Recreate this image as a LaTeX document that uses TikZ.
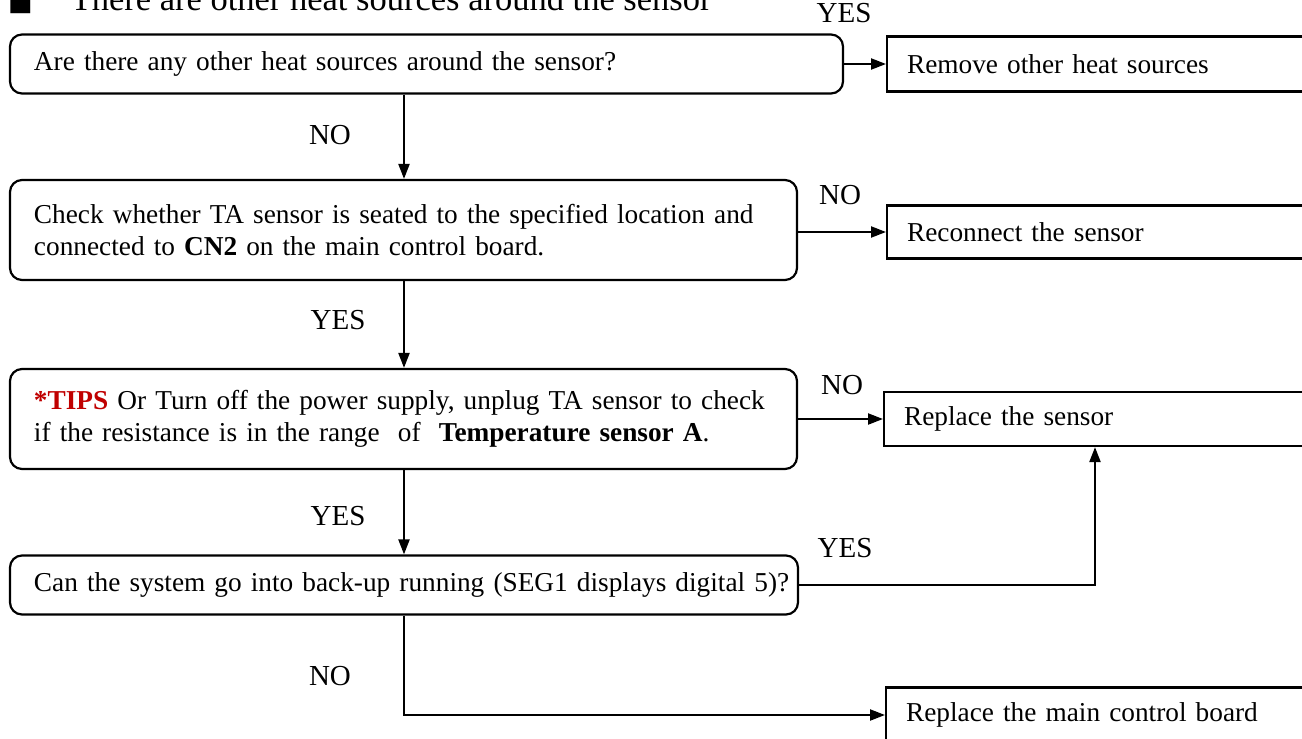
\documentclass[tikz,border=0pt]{standalone}
\usepackage{fontspec}
\setmainfont{Liberation Serif}
\newfontfamily\symfont{DejaVu Sans}
\usetikzlibrary{arrows.meta,calc}
\definecolor{tipred}{RGB}{192,0,0}
\begin{document}
\begin{tikzpicture}[x=1pt,y=-1pt,
  every node/.style={font=\fontsize{27.3}{32}\selectfont},
  qbox/.style={draw,line width=2.2pt,rounded corners=12pt,align=left,inner xsep=24pt,inner ysep=0pt},
  rbox/.style={draw,line width=2.2pt,align=left,inner xsep=20pt,inner ysep=0pt,anchor=west},
  lbl/.style={font=\fontsize{29}{32}\selectfont,inner sep=0pt},
  arr/.style={line width=2.2pt,-{Triangle[length=15pt,width=11pt]}}]
\useasboundingbox (0,0) rectangle (1302,739);
% title (cut at top)
\node[anchor=base west,inner sep=0pt,font=\fontsize{34.5}{36}\selectfont] (title) at (8,10) {{\symfont\fontsize{26}{30}\selectfont ■}\hspace{38pt}There are other heat sources around the sensor};
% question boxes
\node[qbox,minimum width=833pt,minimum height=59pt,text width=785pt] (q1) at (426.5,64) {\mbox{Are there any other heat sources around the sensor?}};
\node[qbox,minimum width=787pt,minimum height=100pt,text width=739pt] (q2) at (403.5,230) {\mbox{Check whether TA sensor is seated to the specified location and}\\\mbox{connected to \textbf{CN2} on the main control board.}};
\node[qbox,minimum width=787pt,minimum height=100pt,text width=739pt] (q3) at (403.5,419) {\mbox{\textcolor{tipred}{\textbf{*TIPS}} Or Turn off the power supply, unplug TA sensor to check}\\\mbox{if the resistance is in the range\ \ of\ \ \textbf{Temperature sensor A}.}};
\node[qbox,minimum width=788pt,minimum height=59pt,text width=740pt] (q4) at (404,585) {\mbox{Can the system go into back-up running (SEG1 displays digital 5)?}};
% result boxes (cut at right edge)
\node[rbox,minimum width=450pt,minimum height=55pt,text width=410pt] (r1) at (886,64) {Remove other heat sources};
\node[rbox,minimum width=450pt,minimum height=53pt,text width=410pt] (r2) at (886,232) {Reconnect the sensor};
\node[rbox,minimum width=450pt,minimum height=54pt,text width=410pt] (r3) at (883,419) {Replace the sensor};
\node[rbox,minimum width=450pt,minimum height=55pt,text width=410pt] (r4) at (885,715) {Replace the main control board};
% helper coordinates
\coordinate (vx) at (404,0);
\coordinate (vr) at (1095,0);
% connectors
\draw[arr] (q1.east) -- (r1.west);
\draw[arr] (q1.south -| vx) -- (q2.north -| vx);
\draw[arr] (r2.west -| q2.east) -- (r2.west);
\draw[arr] (q2.south -| vx) -- (q3.north -| vx);
\draw[arr] (q3.east) -- (r3.west);
\draw[arr] (q3.south -| vx) -- (q4.north -| vx);
\draw[arr] (q4.east) -- (q4.east -| vr) -- (r3.south -| vr);
\draw[arr] (q4.south -| vx) -- (r4.west -| vx) -- (r4.west);
% labels
\node[lbl] (l1) at (844,13) {YES};
\node[lbl] (l2) at (330,135) {NO};
\node[lbl] (l3) at (840,195) {NO};
\node[lbl] (l4) at (338,320) {YES};
\node[lbl] (l5) at (842,385) {NO};
\node[lbl] (l6) at (338,516) {YES};
\node[lbl] (l7) at (845,548) {YES};
\node[lbl] (l8) at (330,676) {NO};
\end{tikzpicture}
\end{document}
